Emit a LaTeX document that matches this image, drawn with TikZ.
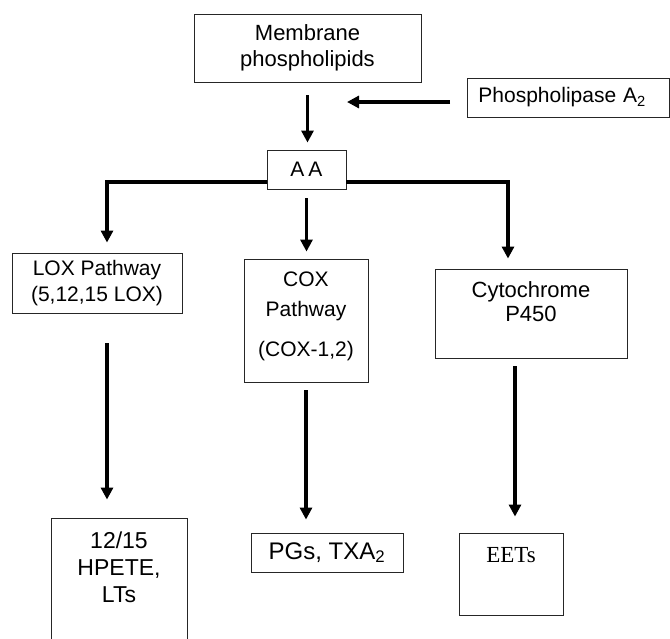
\documentclass[tikz,border=0pt]{standalone}
\usepackage{fontspec}
\setmainfont{Liberation Sans}
\newfontfamily\timesfont{Liberation Serif}
\usetikzlibrary{arrows.meta,calc}
\begin{document}
\begin{tikzpicture}[x=1pt,y=-1pt,
  box/.style={draw=black!85, line width=0.9pt, inner sep=0pt, align=center, fill=white,
              font=\fontsize{21}{26}\selectfont},
  lbl/.style={align=center, font=\fontsize{21}{26}\selectfont},
  arr/.style={line width=3.5pt, -{Triangle[width=12pt,length=12pt]}}]
\useasboundingbox (0,0) rectangle (670,638);
% nodes
\node[box, minimum width=227pt, minimum height=68pt, font=\fontsize{22}{26}\selectfont] (mem) at (307.5,48) {Membrane\\phospholipids};
\node[box, anchor=west, minimum height=39pt, inner xsep=11pt, text width=180pt, align=left] (pla) at (467,97.5) {Phospholipase A\textsubscript{2}};
\node[box, minimum width=79pt, minimum height=39pt] (aa) at (306.5,169.5) {A\hspace{4pt}A};
\node[box, minimum width=170pt, minimum height=60pt] (lox) at (97,283) {LOX Pathway\\(5,12,15 LOX)};
\node[box, minimum width=124pt, minimum height=123pt,
      label={[lbl, font=\fontsize{21}{30}\selectfont, yshift=4pt]center:{COX\\Pathway\\[10pt](COX-1,2)}}] (cox) at (306,320.5) {};
\node[box, minimum width=192pt, minimum height=89pt,
      label={[lbl, font=\fontsize{22}{24}\selectfont, yshift=12pt]center:{Cytochrome\\P450}}] (cyto) at (531,313.5) {};
\node[box, minimum width=136pt, minimum height=132pt,
      label={[lbl, font=\fontsize{23}{27}\selectfont, yshift=17pt]center:{12/15\\HPETE,\\LTs}}] (hpete) at (119,584) {};
\node[box, minimum width=152pt, minimum height=39pt, font=\fontsize{24}{26}\selectfont] (pgs) at (327,552.5) {PGs, TXA\textsubscript{2}};
\node[box, minimum width=104pt, minimum height=82pt,
      label={[lbl, font=\fontsize{23}{26}\timesfont, yshift=19pt]center:{EETs}}] (eets) at (511,574) {};
% helper coordinates
\coordinate (pa) at (347,102);
\coordinate (jl) at (107,182);
\coordinate (jr) at (508,182);
\coordinate (jc) at (515,0);
% connectors
\draw[arr] ($(mem.south)+(0,13)$) -- ($(mem.south |- aa.north)+(0,-7)$);
\draw[arr] ($(pa -| pla.west)+(-17,0)$) -- (pa);
\draw[arr] (aa.west |- jl) -| ($(lox.north -| jl)+(0,-10)$);
\draw[arr] (aa.east |- jr) -| ($(cyto.north -| jr)+(0,-10)$);
\draw[arr] ($(aa.south)+(0,9)$) -- ($(aa.south |- cox.north)+(0,-7)$);
\draw[arr] ($(lox.south -| jl)+(0,30)$) -- ($(hpete.north -| jl)+(0,-18)$);
\draw[arr] ($(cox.south)+(0,8)$) -- ($(cox.south |- pgs.north)+(0,-13)$);
\draw[arr] ($(cyto.south -| jc)+(0,8)$) -- ($(eets.north -| jc)+(0,-16)$);
\end{tikzpicture}
\end{document}
